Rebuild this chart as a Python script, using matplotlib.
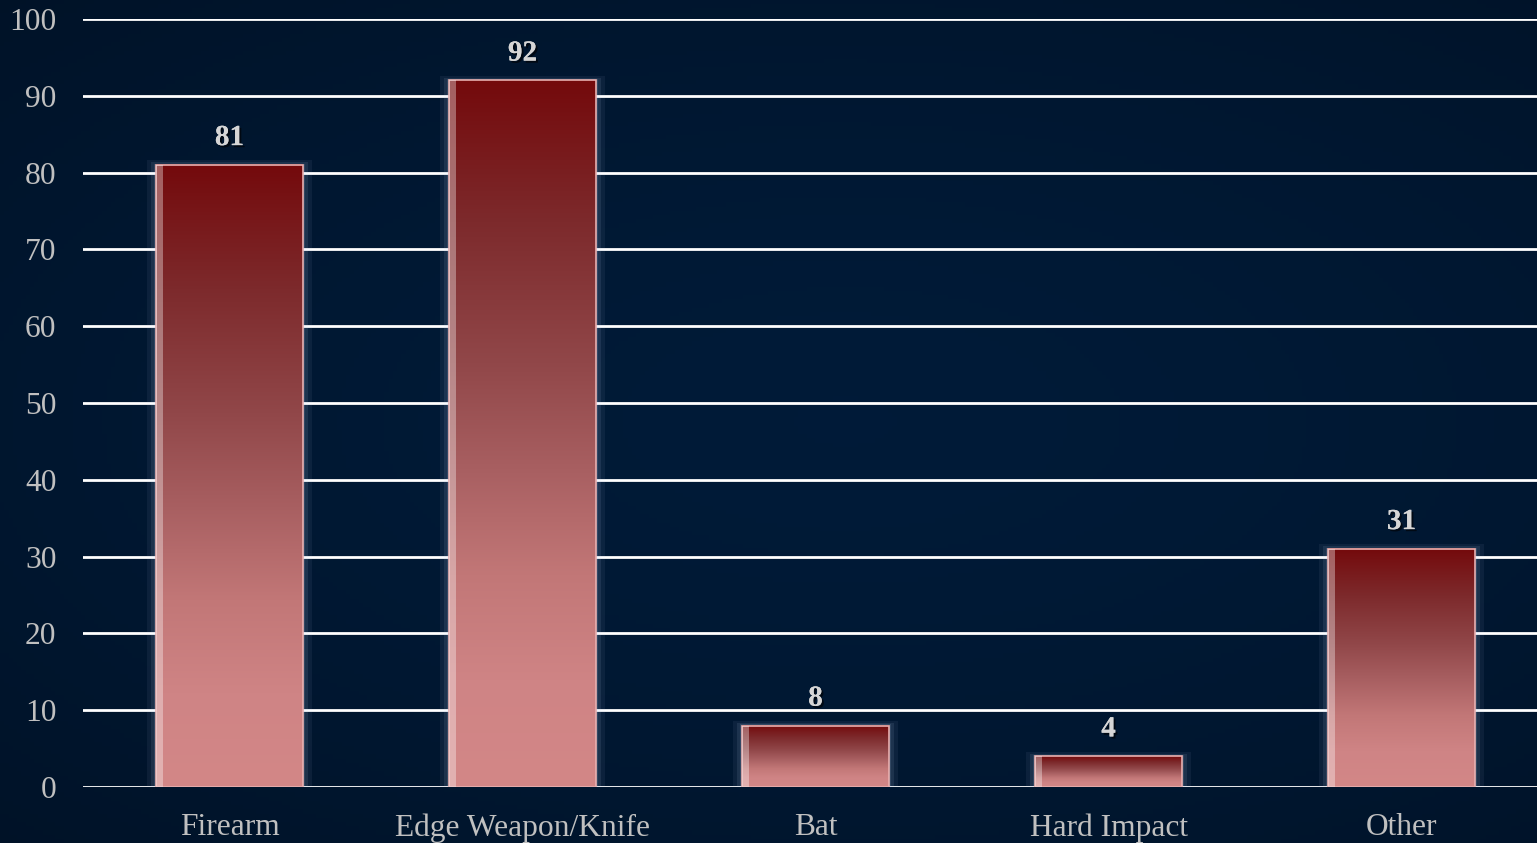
import numpy as np
import matplotlib
matplotlib.use("Agg")
import matplotlib.pyplot as plt
from matplotlib.colors import LinearSegmentedColormap
import matplotlib.patheffects as pe

categories = ["Firearm", "Edge Weapon/Knife", "Bat", "Hard Impact", "Other"]
values = [81, 92, 8, 4, 31]
yticks = [0, 10, 20, 30, 40, 50, 60, 70, 80, 90, 100]

W, H = 1537, 843
fig = plt.figure(figsize=(W / 100, H / 100), dpi=100)

# background
bg = fig.add_axes([0, 0, 1, 1], zorder=-10)
yy, xx = np.mgrid[0:1:200j, 0:1:360j]
base = np.array([0.0, 0.105, 0.22])
dark = np.array([0.0, 0.065, 0.14])
d = np.sqrt(((xx - 0.55) / 0.9) ** 2 + ((yy - 0.5) / 0.8) ** 2)
t = np.clip(d, 0, 1)[..., None] ** 1.6
img = base * (1 - t) + dark * t
bg.imshow(img, extent=[0, 1, 0, 1], aspect="auto", origin="lower")
bg.set_axis_off()

left = 83 / W
bottom = 56 / H
height = 768 / H
width = (5 * 293) / W
ax = fig.add_axes([left, bottom, width, height])
ax.set_facecolor("none")

for y in yticks:
    ax.axhline(y, color="white", lw=2, zorder=1)

cmap = LinearSegmentedColormap.from_list(
    "bar",
    [(0.0, "#d38787"), (0.15, "#cf8485"), (0.3, "#c27777"), (0.45, "#a85f61"),
     (0.6, "#914749"), (0.8, "#7d2a2c"), (1.0, "#740a0c")])
grad = np.linspace(0, 1, 256)[:, None]
bw = 0.5
x = np.arange(len(categories))
for xi, v in zip(x, values):
    # glow
    for k, a in [(0.03, 0.06), (0.018, 0.09), (0.008, 0.12)]:
        ax.bar(xi, v + k * 20, width=bw + k * 2, bottom=0, color="#cfe0ff", alpha=a, zorder=2, lw=0)
    ax.imshow(grad, cmap=cmap, extent=[xi - bw / 2, xi + bw / 2, 0, v], origin="lower",
              aspect="auto", zorder=3)
    ax.bar(xi, v, width=bw, fill=False, edgecolor="#e8b0b0", lw=1.2, zorder=4)
    ax.bar(xi - bw / 2 + 0.012, v, width=0.024, color="white", alpha=0.35, lw=0, zorder=4)
    ax.text(xi, v + 1.8, str(v), ha="center", va="bottom", fontsize=21, fontweight="bold",
            family="Liberation Serif", color="#d6d6d6", zorder=5,
            path_effects=[pe.withSimplePatchShadow(offset=(1.5, -1.5), shadow_rgbFace="black", alpha=0.6), pe.Normal()])

ax.set_xlim(-0.5, 4.5)
ax.set_ylim(0, 100)
ax.set_yticks(yticks)
ax.set_xticks(x)
ax.set_xticklabels(categories)
for s in ax.spines.values():
    s.set_visible(False)
ax.tick_params(axis="both", length=0, colors="#c0c0c0", labelsize=22.7)
ax.tick_params(axis="y", pad=19)
ax.tick_params(axis="x", pad=19)
for lab in ax.get_xticklabels() + ax.get_yticklabels():
    lab.set_family("Liberation Serif")
    lab.set_color("#c0c0c0")

fig.savefig("out.png", dpi=100)
